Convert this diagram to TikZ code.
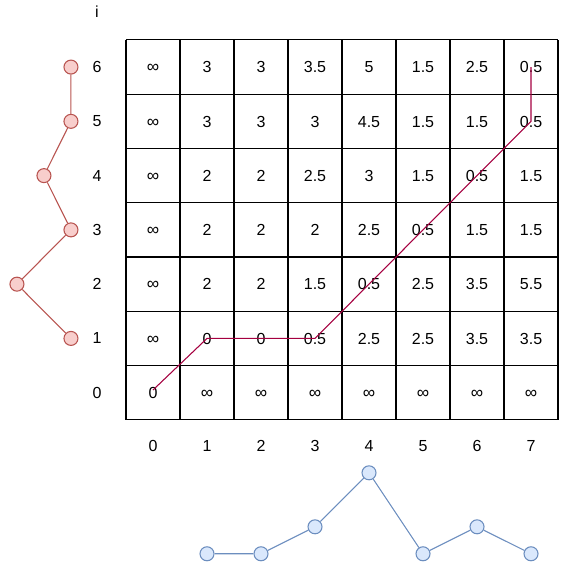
\documentclass[tikz,border=0pt]{standalone}
\usepackage{fontspec}
\setmainfont{Liberation Sans}
\usetikzlibrary{positioning, calc}
\definecolor{redfill}{RGB}{248,206,204}
\definecolor{redline}{RGB}{184,84,80}
\definecolor{bluefill}{RGB}{218,232,252}
\definecolor{blueline}{RGB}{108,142,191}
\definecolor{pathc}{RGB}{165,0,64}
\tikzset{
  cell/.style={font=\fontsize{12}{14}\selectfont, inner sep=0pt,
               text height=8.6pt, text depth=0pt},
  lab/.style={font=\fontsize{12}{14}\selectfont, inner sep=0pt},
  rdot/.style={circle, draw=redline, fill=redfill, line width=0.8pt,
               minimum size=10.5pt, inner sep=0pt},
  bdot/.style={circle, draw=blueline, fill=bluefill, line width=0.8pt,
               minimum size=10.5pt, inner sep=0pt},
  rlink/.style={draw=redline, line width=0.8pt},
  blink/.style={draw=blueline, line width=0.8pt},
  warp/.style={draw=pathc, line width=0.8pt},
  rule/.style={draw=black, line width=0.8pt},
}
\newcommand{\inft}{{\fontsize{13}{14}\selectfont ∞}}

\begin{document}
\begin{tikzpicture}[x=40.5pt, y=40.7pt]
  \useasboundingbox (-2.333,-2.726) rectangle (8.481,7.736);

  % cost table
  \foreach \c in {0,...,8}
    \draw[rule] (\c,0) -- (\c,7);
  \foreach \r in {0,...,7}
    \draw[rule] (0,\r) -- (8,\r);
  \foreach \row [count=\r from 0] in {
      {0,\inft,\inft,\inft,\inft,\inft,\inft,\inft},
      {\inft,0,0,0.5,2.5,2.5,3.5,3.5},
      {\inft,2,2,1.5,0.5,2.5,3.5,5.5},
      {\inft,2,2,2,2.5,0.5,1.5,1.5},
      {\inft,2,2,2.5,3,1.5,0.5,1.5},
      {\inft,3,3,3,4.5,1.5,1.5,0.5},
      {\inft,3,3,3.5,5,1.5,2.5,0.5}}
    \foreach \v [count=\c from 0] in \row
      \node[cell] (c-\c-\r) at (\c+0.5,\r+0.5) {\v};

  % warping path
  \draw[warp] ($(c-0-0.center)+(0,0.05)$) -- (c-1-1.center) -- (c-3-1.center)
    -- (c-7-5.center) -- (c-7-6.center);

  % axis labels
  \node[lab] (ilab) at (-0.537,7.515) {i};
  \foreach \r in {0,...,6}
    \node[lab] (row-\r) at (-0.537,\r+0.5) {\r};
  \foreach \c in {0,...,7}
    \node[lab] (col-\c) at (\c+0.5,-0.479) {\c};

  % left series
  \node[rdot] (p6) at (-1.019,6.5) {};
  \node[rdot] (p5) at (-1.019,5.5) {};
  \node[rdot] (p4) at (-1.519,4.5) {};
  \node[rdot] (p3) at (-1.019,3.5) {};
  \node[rdot] (p2) at (-2.019,2.5) {};
  \node[rdot] (p1) at (-1.019,1.5) {};
  \draw[rlink] (p6) -- (p5) -- (p4) -- (p3) -- (p2) -- (p1);

  % bottom series
  \node[bdot] (q1) at (1.5,-2.468) {};
  \node[bdot] (q2) at (2.5,-2.468) {};
  \node[bdot] (q3) at (3.5,-1.971) {};
  \node[bdot] (q4) at (4.5,-0.976) {};
  \node[bdot] (q5) at (5.5,-2.468) {};
  \node[bdot] (q6) at (6.5,-1.971) {};
  \node[bdot] (q7) at (7.5,-2.468) {};
  \draw[blink] (q1) -- (q2) -- (q3) -- (q4) -- (q5) -- (q6) -- (q7);

\end{tikzpicture}
\end{document}
